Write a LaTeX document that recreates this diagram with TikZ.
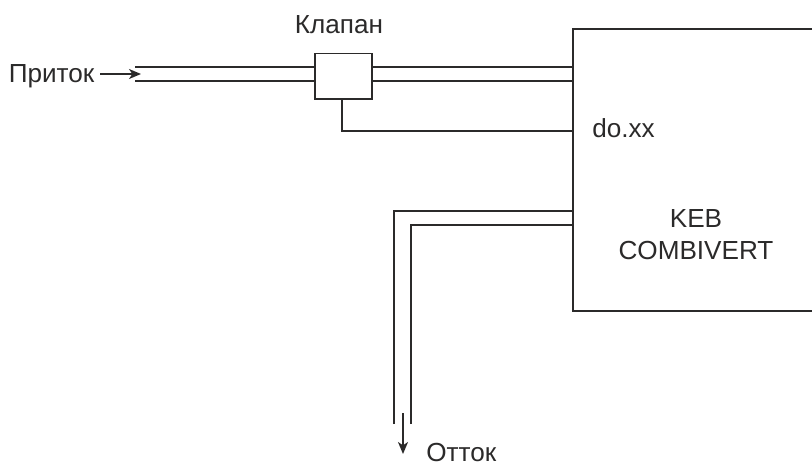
\documentclass[tikz,border=0pt]{standalone}
\usepackage{fontspec}
\setmainfont{Liberation Sans}
\usetikzlibrary{arrows.meta}
\definecolor{ink}{HTML}{2B2A2A}
\tikzset{
  wire/.style={draw=ink,line width=1.35pt},
  flow/.style={draw=ink,line width=1.2pt,-{Stealth[length=9pt,width=7.5pt,inset=2.5pt]}},
  lbl/.style={text=ink,font=\fontsize{19.6}{23}\selectfont,inner sep=0pt},
}
\begin{document}
\begin{tikzpicture}[x=0.75pt,y=-0.75pt]
\useasboundingbox (0,0) rectangle (812,464);
\node[wire,fill=white,inner sep=0pt,anchor=north west,minimum width=42.8pt,minimum height=34.2pt] (valve) at (314,52.5) {};
\node[wire,anchor=north west,inner sep=0pt,minimum width=181.5pt,minimum height=211.8pt] (keb) at (571.8,27.8) {};
\coordinate (inA) at (135,67);
\coordinate (inB) at (135,81);
\coordinate (outA) at (394,424);
\coordinate (outB) at (411,424);
\draw[wire] (inA) -- (inA -| valve.west);
\draw[wire] (inB) -- (inB -| valve.west);
\draw[wire] (inA -| valve.east) -- (inA -| keb.west);
\draw[wire] (inB -| valve.east) -- (inB -| keb.west);
\draw[wire] (valve.south -| 342,0) -- (342,131) -- (571.8,131);
\draw[wire] (outA) -- (394,211) -- (571.8,211);
\draw[wire] (outB) -- (411,225) -- (571.8,225);
\node[lbl,anchor=base] (tvalve) at (339,33) {Клапан};
\node[lbl,anchor=base west] (tin) at (8.5,82.5) {Приток};
\node[lbl,anchor=base west] (tdo) at (592,137) {do.xx};
\node[lbl,anchor=base] (tk1) at (696,227) {KEB};
\node[lbl,anchor=base] (tk2) at (696,259) {COMBIVERT};
\node[lbl,anchor=base west] (tout) at (426,461.5) {Отток};
\coordinate (a1) at (100,74);
\coordinate (a2) at (141,74);
\coordinate (b1) at (403,413);
\coordinate (b2) at (403,454);
\draw[flow] (a1) -- (a2);
\draw[flow] (b1) -- (b2);
\end{tikzpicture}
\end{document}
